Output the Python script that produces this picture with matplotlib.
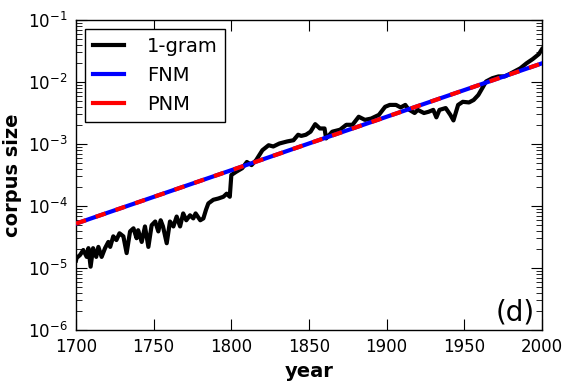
import matplotlib
matplotlib.use("Agg")
import matplotlib.pyplot as plt
from matplotlib.lines import Line2D
from matplotlib.ticker import LogLocator, FixedLocator

# ---- data ----
years = [1700, 1700.4, 1702.6, 1704.7, 1706.9, 1708, 1709.4, 1711, 1713, 1714.4, 1716.5, 1718.7,
         1720.8, 1722, 1724, 1726, 1728, 1730.5, 1732.6, 1734.8, 1737, 1739, 1740, 1742.3,
         1744.4, 1746.6, 1748.7, 1751, 1753, 1754.5, 1756, 1758.4, 1760.5, 1762.7, 1764.8,
         1767, 1769, 1771, 1773.4, 1775.5, 1777, 1780, 1782, 1783.7, 1785.2, 1788.4, 1791.6,
         1794.9, 1797, 1799, 1800, 1803, 1807, 1810, 1813, 1816, 1820, 1824, 1827, 1831,
         1836, 1840, 1843, 1845, 1848, 1851, 1854, 1857, 1860, 1861, 1865, 1870, 1874, 1878,
         1882, 1886, 1890, 1895, 1899, 1902, 1906, 1909, 1912, 1914, 1918, 1920, 1924, 1927,
         1930, 1932, 1934, 1938, 1941, 1943, 1946, 1949, 1953, 1956, 1959, 1962, 1964, 1968,
         1972, 1976, 1980, 1986, 1990, 1994, 1998, 2000]
onegram = [1.32e-5, 1.45e-5, 1.62e-5, 1.95e-5, 1.51e-5, 2.09e-5, 1.05e-5, 2.09e-5, 1.51e-5,
           2.19e-5, 1.51e-5, 2.09e-5, 2.63e-5, 2.19e-5, 3.24e-5, 2.82e-5, 3.63e-5, 3.24e-5,
           1.74e-5, 3.89e-5, 4.37e-5, 3.02e-5, 4.07e-5, 2.63e-5, 4.68e-5, 2.19e-5, 4.90e-5,
           5.62e-5, 3.89e-5, 5.89e-5, 4.68e-5, 2.51e-5, 5.62e-5, 4.68e-5, 6.76e-5, 4.68e-5,
           7.59e-5, 5.89e-5, 7.08e-5, 6.31e-5, 7.59e-5, 5.89e-5, 6.31e-5, 8.71e-5, 1.10e-4,
           1.26e-4, 1.32e-4, 1.41e-4, 1.58e-4, 1.41e-4, 3.16e-4, 3.55e-4, 4.07e-4, 5.13e-4,
           4.57e-4, 5.50e-4, 7.94e-4, 9.55e-4, 9.12e-4, 1.02e-3, 1.10e-3, 1.15e-3, 1.41e-3,
           1.35e-3, 1.41e-3, 1.58e-3, 2.09e-3, 1.78e-3, 1.78e-3, 1.23e-3, 1.58e-3, 1.70e-3,
           2.04e-3, 2.04e-3, 2.75e-3, 2.45e-3, 2.57e-3, 2.95e-3, 3.98e-3, 4.27e-3, 4.27e-3,
           3.89e-3, 4.27e-3, 3.63e-3, 3.16e-3, 3.55e-3, 3.16e-3, 3.31e-3, 3.55e-3, 2.69e-3,
           3.55e-3, 3.80e-3, 2.95e-3, 2.40e-3, 4.27e-3, 4.79e-3, 4.68e-3, 5.13e-3, 6.17e-3,
           8.32e-3, 1.02e-2, 1.15e-2, 1.23e-2, 1.23e-2, 1.38e-2, 1.66e-2, 2.00e-2, 2.34e-2,
           2.82e-2, 3.39e-2]
fit_years = [1700, 2000]
fnm = [5.2e-5, 2.0e-2]
pnm = [5.2e-5, 2.0e-2]
xticks = [1700, 1750, 1800, 1850, 1900, 1950, 2000]

# ---- figure ----
fig = plt.figure(figsize=(5.72, 3.89), dpi=100, facecolor="white")
ax = fig.add_axes([76/572, 1 - 330/389, (542-76)/572, (330-20)/389])

ax.plot(years, onegram, color="black", lw=3, solid_joinstyle="round", zorder=3)
ax.plot(fit_years, fnm, color="blue", lw=3, zorder=4)
ax.plot(fit_years, pnm, color="red", lw=3, dashes=(2.5, 2.5), zorder=5)

ax.set_yscale("log")
ax.set_xlim(1700, 2000)
ax.set_ylim(1e-6, 1e-1)
ax.xaxis.set_major_locator(FixedLocator(xticks))
ax.yaxis.set_major_locator(LogLocator(base=10, numticks=10))
ax.yaxis.set_minor_locator(LogLocator(base=10, subs=range(2, 10), numticks=20))

ax.tick_params(which="both", direction="in", top=True, right=True, labelsize=12)
ax.tick_params(which="major", length=8, width=0.8)
ax.tick_params(which="minor", length=4, width=0.6)
ax.tick_params(axis="x", pad=6)
ax.tick_params(axis="y", pad=6)
for s in ax.spines.values():
    s.set_linewidth(1.0)

ax.set_xlabel("year", fontsize=14, fontweight="bold")
ax.set_ylabel("corpus size", fontsize=14, fontweight="bold")

handles = [Line2D([], [], color="black", lw=3),
           Line2D([], [], color="blue", lw=3),
           Line2D([], [], color="red", lw=3)]
leg = ax.legend(handles, ["1-gram", "FNM", "PNM"], loc="upper left", fontsize=14,
                fancybox=False, framealpha=1, edgecolor="black", handlelength=1.6,
                borderaxespad=0.45, labelspacing=0.53, handletextpad=1.2,
                borderpad=0.4)
leg.get_frame().set_linewidth(1.0)

ax.text(0.985, 0.012, "(d)", transform=ax.transAxes, ha="right", va="bottom", fontsize=20)

fig.savefig("out.png", dpi=100, facecolor="white")
